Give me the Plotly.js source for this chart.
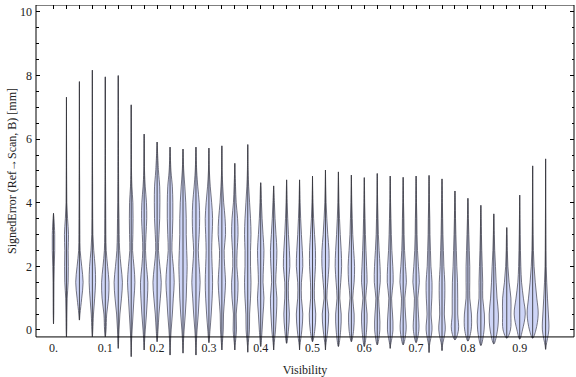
<!DOCTYPE html>
<html>
<head>
<meta charset="utf-8">
<script src="https://cdn.plot.ly/plotly-3.0.1.min.js"></script>
<style>html,body{margin:0;padding:0;background:#fff;}</style>
</head>
<body>
<div id="chart" style="width:576px;height:377px;"></div>
<script>
// Visibility bins (one violin per bin)
const visibility = [0.000,0.025,0.050,0.075,0.100,0.125,0.150,0.175,0.200,0.225,0.250,0.275,0.300,0.325,0.350,0.375,0.400,0.425,0.450,0.475,0.500,0.525,0.550,0.575,0.600,0.625,0.650,0.675,0.700,0.725,0.750,0.775,0.800,0.825,0.850,0.875,0.900,0.925,0.950];
// Minimum and maximum signed error in each bin [mm]
const errMin = [0.19,-0.21,0.31,-0.21,-0.21,-0.58,-0.84,-0.63,-0.37,-0.79,-0.73,-0.79,-0.40,-0.63,-0.63,-0.70,-0.52,-0.63,-0.42,-0.63,-0.37,-0.63,-0.52,-0.37,-0.52,-0.47,-0.58,-0.47,-0.40,-0.71,-0.65,-0.31,-0.35,-0.49,-0.44,-0.26,-0.29,-0.26,-0.61];
const errMax = [3.67,7.32,7.81,8.17,7.96,8.00,7.08,6.16,5.91,5.75,5.69,5.75,5.72,5.79,5.24,5.83,4.63,4.53,4.72,4.72,4.84,5.03,4.97,4.87,4.79,4.92,4.84,4.80,4.84,4.86,4.75,4.37,4.14,3.92,3.65,3.22,4.24,5.16,5.38];
// Error levels at which the density profile is read [mm]
const profileY = [-0.5,0,0.5,1,1.5,2,2.5,3,3.5,4,4.5,5];
// Relative density (violin half-width) at each profile level, one row per bin
const density = [
  [0,0,0.3,0.4,0.5,0.8,1.3,1.3,0.5,0,0,0],
  [0,0.3,0.5,0.8,1.8,2,1.8,2.2,1.2,0.4,0.3,0.2],
  [0,0,0.6,2.5,4,2.5,0.8,0.5,0.4,0.3,0.3,0.2],
  [0,0.5,1.2,2.5,3.5,3,1.5,0.6,0.4,0.3,0.3,0.2],
  [0,0.8,1.5,3.5,4,2.5,1,0.6,0.5,0.4,0.3,0.2],
  [0.2,0.8,1.8,3.5,4.5,3,1.5,1,0.8,0.5,0.4,0.3],
  [0.2,1,2,3,4,3,1.5,1.8,2,1.8,0.8,0.3],
  [0.2,1.2,2.5,3.5,4,2.5,1.5,2,2.8,2.5,1.2,0.4],
  [0,1,2,3.5,4.5,3,1.5,2,2.8,3,2.8,1.5],
  [0.3,1.2,2.5,3.5,4.5,3.5,2,2.5,3,3,2.5,1],
  [0.3,1.2,2.5,3.5,4,4.5,4,3.5,3.5,3,2,0.8],
  [0.3,1.2,2.5,3.5,4.5,3.5,2.5,3.5,4,3.5,2,0.8],
  [0.2,1.2,2.5,3.5,4,3.5,3,3.5,4,3,1.5,0.5],
  [0.3,1.5,1.8,3,4,3,2.5,4,3.5,2,1,0.3],
  [0.3,1.8,1.5,3,3.5,2.2,2.5,3.5,3,1.5,0.8,0.2],
  [0.3,1.8,2,3,3.5,3,3,3.5,3,2,1,0.4],
  [0.3,1.5,2.5,3.5,2.5,3,3.5,2.5,1.5,0.8,0.3,0],
  [0.3,2,3,3.5,2.2,3,3.5,2.5,1.5,0.8,0.3,0],
  [0.3,2,3,2,2,3.5,3,2,1.2,0.6,0.2,0],
  [0.3,2.5,3.5,2,2,3.5,3,2,1.2,0.6,0.2,0],
  [0.2,2.5,3.5,2,2.2,3.2,3.2,2.2,1.2,0.6,0.2,0],
  [0.3,2.5,3.5,1.5,2.5,3.8,3.8,2.5,1.5,0.7,0.3,0.1],
  [0.3,2.5,3,1.5,2.5,3.5,3,2,1.2,0.6,0.3,0.1],
  [0.2,2.5,3,1.5,3,3.5,2.5,1.5,1,0.5,0.2,0],
  [0.3,2.5,3,1.5,3,2.5,1.8,1.2,0.8,0.4,0.2,0],
  [0.3,2.8,2.5,1.5,3.2,3,2,1.2,0.8,0.4,0.2,0],
  [0.3,3,2.5,1.5,3.2,2.8,1.8,1.2,0.8,0.4,0.2,0],
  [0.3,3.2,2.5,1.8,3.5,2.5,1.5,1,0.8,0.4,0.2,0],
  [0.3,3,2.5,1.8,3.5,2.5,1.5,1,0.8,0.4,0.2,0],
  [0.4,3.2,2.2,3,3.2,2,1.5,1,0.8,0.4,0.2,0],
  [0.4,3.5,2.5,3,3,2,1.5,1,0.7,0.4,0.2,0],
  [0.2,3.8,3,3,2.8,2,1.5,1,0.6,0.3,0,0],
  [0.2,3.5,3.8,2,2,2,1.5,1,0.5,0.2,0,0],
  [0.3,3.5,3.8,2,2,1.5,1,0.6,0.3,0,0,0],
  [0.3,4,5,3.5,2.5,1.8,1,0.5,0.2,0,0,0],
  [0.2,4,4.5,4.5,2.5,1.2,0.6,0.3,0,0,0,0],
  [0.2,3,6,4,2,1.2,0.8,0.5,0.3,0.1,0,0],
  [0.2,3.5,6,4.5,2.8,1.5,0.8,0.5,0.3,0.2,0.1,0],
  [0.5,3.5,3,2,1.2,0.6,0.4,0.3,0.2,0.1,0.1,0]
];
// Axis ticks
const xTickVals = [0,0.1,0.2,0.3,0.4,0.5,0.6,0.7,0.8,0.9];
const xTickText = ['0.','0.1','0.2','0.3','0.4','0.5','0.6','0.7','0.8','0.9'];
const yTickVals = [0,2,4,6,8,10];
const yMinorVals = [0.5,1,1.5,2.5,3,3.5,4.5,5,5.5,6.5,7,7.5,8.5,9,9.5];

// ---- drawing ----
const WIDTH_SCALE = 0.00178; // density unit -> x-axis units
const bodyX = [], bodyY = [], stemX = [], stemY = [];
visibility.forEach((v, i) => {
  const pts = [{y: errMin[i], w: 0}];
  profileY.forEach((py, k) => {
    if (py > errMin[i] + 0.05 && py < errMax[i] - 0.05) pts.push({y: py, w: density[i][k]});
  });
  pts.push({y: errMax[i], w: 0});
  pts.forEach(p => { bodyX.push(v + p.w * WIDTH_SCALE); bodyY.push(p.y); });
  for (let j = pts.length - 1; j >= 0; j--) { bodyX.push(v - pts[j].w * WIDTH_SCALE); bodyY.push(pts[j].y); }
  bodyX.push(null); bodyY.push(null);
  stemX.push(v, v, null); stemY.push(errMin[i], errMax[i], null);
});

const bodies = {
  type: 'scatter', mode: 'lines', x: bodyX, y: bodyY,
  fill: 'toself', fillcolor: 'rgb(206,213,247)',
  line: {color: 'rgba(85,85,100,0.8)', width: 1, shape: 'spline', smoothing: 1},
  hoverinfo: 'skip', connectgaps: false
};
const stems = {
  type: 'scatter', mode: 'lines', x: stemX, y: stemY, xaxis: 'x2',
  line: {color: 'rgba(50,50,55,0.85)', width: 1},
  hoverinfo: 'skip', connectgaps: false
};

const xr = [-0.0338, 1.0048];
const layout = {
  width: 576, height: 377,
  margin: {l: 36, r: 2, t: 5, b: 14, pad: 0},
  paper_bgcolor: '#fff', plot_bgcolor: '#fff',
  showlegend: false,
  font: {family: '"Liberation Serif", "Times New Roman", serif', size: 12, color: '#222'},
  xaxis: {
    range: xr, anchor: 'free', position: 0.0726,
    tickmode: 'array', tickvals: xTickVals, ticktext: xTickText,
    ticks: '', showgrid: false, zeroline: false, showline: false,
    ticklabelstandoff: 2,
    title: {text: 'Visibility', standoff: 11, font: {size: 12}}
  },
  xaxis2: {
    range: xr, overlaying: 'x', side: 'top', anchor: 'y',
    tickmode: 'array', tickvals: visibility, ticks: 'inside', ticklen: 4,
    tickcolor: '#000', showticklabels: false, showgrid: false, zeroline: false, showline: false
  },
  yaxis: {
    range: [-1.04, 10.22],
    tickmode: 'array', tickvals: yTickVals, ticks: 'inside', ticklen: 4, tickcolor: '#000',
    mirror: 'ticks', showline: false, showgrid: false, zeroline: false,
    ticklabelstandoff: 3,
    minor: {tickmode: 'array', tickvals: yMinorVals, ticks: 'inside', ticklen: 2.5, tickcolor: '#000', showgrid: false}
  },
  shapes: [{type: 'rect', xref: 'paper', x0: 0, x1: 1, yref: 'y', y0: -0.22, y1: 10.22,
            line: {color: '#000', width: 1}, layer: 'above'}],
  annotations: [{
    text: 'SignedError (Ref→Scan, B) [mm]', xref: 'paper', x: 0, xanchor: 'center', xshift: -24,
    yref: 'y', y: 5.0, yanchor: 'middle', textangle: -90, showarrow: false,
    font: {size: 12, color: '#222'}
  }]
};

Plotly.newPlot('chart', [bodies, stems], layout, {staticPlot: true, displayModeBar: false});
</script>
</body>
</html>
